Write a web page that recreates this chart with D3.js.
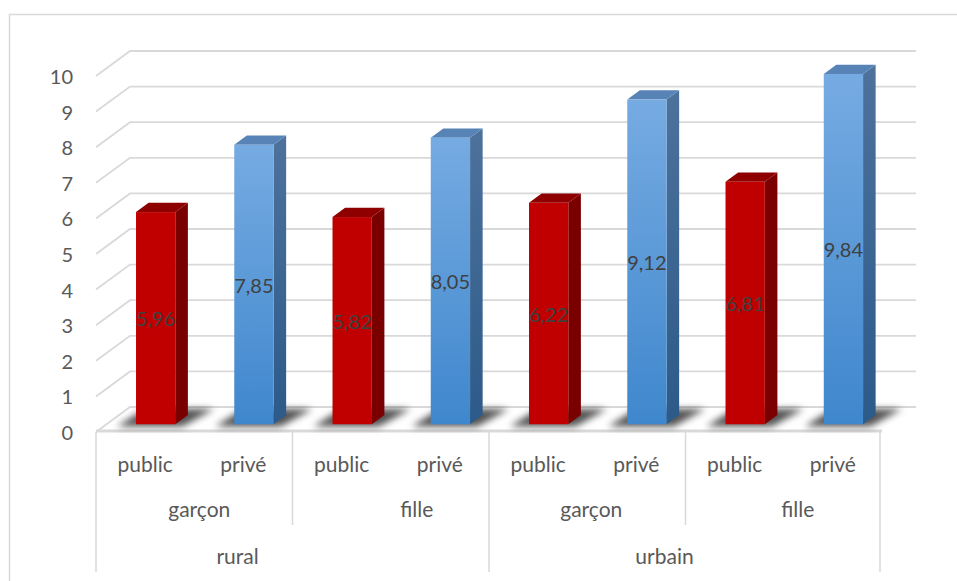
<!DOCTYPE html>
<html>
<head>
<meta charset="utf-8">
<script src="https://cdn.jsdelivr.net/npm/d3@7"></script>
<style>
  body { margin: 0; background: #fff; }
  text { font-family: Lato, "Open Sans", sans-serif; }
</style>
</head>
<body>
<svg id="chart" width="957" height="581"></svg>
<script>
// ── Data ────────────────────────────────────────────────────────────────
var types  = ["public", "privé", "public", "privé", "public", "privé", "public", "privé"];
var sexes  = ["garçon", "fille", "garçon", "fille"];
var zones  = ["rural", "urbain"];
var values = [5.96, 7.85, 5.82, 8.05, 6.22, 9.12, 6.81, 9.84];
var yTicks = [0, 1, 2, 3, 4, 5, 6, 7, 8, 9, 10];

// ── Geometry ────────────────────────────────────────────────────────────
var X0 = 96, Y0 = 432;     // front-left corner of the floor
var W  = 786;              // floor width
var DX = 34, DY = 25;      // full depth offset
var D1 = 0.31, D2 = 0.68;  // bar depth span

var svg = d3.select("#chart");

var y = d3.scaleLinear().domain([0, 10]).range([0, 356]);
var x = d3.scaleBand().domain(d3.range(values.length)).range([0, W])
  .paddingInner(0.6).paddingOuter(0.3);
var step = x.step();

function proj(u, v, d) { return [X0 + u + DX * d, Y0 - y(v) - DY * d]; }
function poly(pts) { return "M" + pts.map(function (p) { return p.join(","); }).join("L") + "Z"; }
function line(pts) { return "M" + pts.map(function (p) { return p.join(","); }).join("L"); }

// ── Defs ────────────────────────────────────────────────────────────────
var defs = svg.append("defs");
function vgrad(id, c1, c2) {
  var g = defs.append("linearGradient").attr("id", id)
    .attr("x1", 0).attr("y1", 0).attr("x2", 0).attr("y2", 1);
  g.append("stop").attr("offset", "0%").attr("stop-color", c1);
  g.append("stop").attr("offset", "100%").attr("stop-color", c2);
}
vgrad("blueFront", "#76abe2", "#3f87cd");
vgrad("blueSide",  "#4d729c", "#2c5a89");
defs.append("filter").attr("id", "shadowBlur")
  .attr("x", "-50%").attr("y", "-50%").attr("width", "200%").attr("height", "200%")
  .append("feGaussianBlur").attr("stdDeviation", 3.5);

var COLORS = [
  { front: "#c00000", side: "#7a0000", top: "#8e0000" },
  { front: "url(#blueFront)", side: "url(#blueSide)", top: "#5783b6" }
];

// ── Chart border ───────────────────────────────────────────────────────
svg.append("rect")
  .attr("x", 9.5).attr("y", 14.5).attr("width", 980).attr("height", 620)
  .attr("fill", "none").attr("stroke", "#d9d9d9").attr("stroke-width", 1.5);

// ── Floor ──────────────────────────────────────────────────────────────
svg.append("path")
  .attr("d", line([proj(W, 0, 1), proj(0, 0, 1), proj(0, 0, 0)]))
  .attr("fill", "none").attr("stroke", "#d9d9d9").attr("stroke-width", 1.8);
svg.append("line")
  .attr("x1", proj(0, 0, 0)[0]).attr("x2", proj(W, 0, 0)[0])
  .attr("y1", Y0 - 1).attr("y2", Y0 - 1)
  .attr("stroke", "#d9d9d9").attr("stroke-width", 3);

// ── Gridlines (side wall + back wall) ─────────────────────────────────
svg.append("g").selectAll("path").data(yTicks.filter(function (t) { return t > 0; }))
  .join("path")
  .attr("d", function (t) { return line([proj(0, t, 0), proj(0, t, 1), proj(W, t, 1)]); })
  .attr("fill", "none").attr("stroke", "#d9d9d9").attr("stroke-width", 1.8);

// ── Y tick labels ──────────────────────────────────────────────────────
svg.append("g").selectAll("text").data(yTicks).join("text")
  .attr("x", 73).attr("y", function (t) { return proj(0, t, 0)[1]; })
  .attr("text-anchor", "end").attr("dominant-baseline", "central")
  .attr("fill", "#595959").attr("font-size", "20px")
  .text(function (t) { return t; });

// ── Floor shadows ──────────────────────────────────────────────────────
svg.append("g").attr("filter", "url(#shadowBlur)")
  .selectAll("path").data(values).join("path")
  .attr("d", function (v, i) {
    var u0 = x(i) - 16, u1 = x(i) + x.bandwidth() + 10;
    return poly([proj(u0, 0, 0.22), proj(u1, 0, 0.22), proj(u1 + 8, 0, 0.92), proj(u0 + 4, 0, 0.92)]);
  })
  .attr("fill", "#000").attr("opacity", 0.68);

// ── Bars ───────────────────────────────────────────────────────────────
var bars = svg.append("g").selectAll("g").data(values).join("g");
bars.each(function (v, i) {
  var g = d3.select(this), c = COLORS[i % 2];
  var u0 = x(i), u1 = x(i) + x.bandwidth();
  g.append("path").attr("fill", c.side)
    .attr("d", poly([proj(u1, 0, D1), proj(u1, v, D1), proj(u1, v, D2), proj(u1, 0, D2)]));
  g.append("path").attr("fill", c.top)
    .attr("d", poly([proj(u0, v, D1), proj(u1, v, D1), proj(u1, v, D2), proj(u0, v, D2)]));
  var f0 = proj(u0, v, D1), f1 = proj(u1, 0, D1);
  g.append("rect").attr("fill", c.front)
    .attr("x", f0[0]).attr("y", f0[1]).attr("width", f1[0] - f0[0]).attr("height", f1[1] - f0[1]);
});

// ── Data labels ────────────────────────────────────────────────────────
svg.append("g").selectAll("text").data(values).join("text")
  .attr("x", function (v, i) { return proj(x(i) + x.bandwidth() / 2, 0, D1)[0]; })
  .attr("y", function (v) { return proj(0, v / 2, D1)[1]; })
  .attr("text-anchor", "middle").attr("dominant-baseline", "central")
  .attr("fill", "#404040").attr("font-size", "20px")
  .text(function (v) { return d3.format(".2f")(v).replace(".", ","); });

// ── Multi-level category axis ──────────────────────────────────────────
var axisG = svg.append("g");
var boundaries = d3.range(0, values.length + 1, 2);
axisG.selectAll("line").data(boundaries).join("line")
  .attr("x1", function (k) { return X0 + k * step - (k === values.length ? 2 : 0); })
  .attr("x2", function (k) { return X0 + k * step - (k === values.length ? 2 : 0); })
  .attr("y1", Y0).attr("y2", function (k) { return k % 4 === 0 ? 572 : 525; })
  .attr("stroke", "#d9d9d9").attr("stroke-width", 1.5);

axisG.selectAll("text.type").data(types).join("text").attr("class", "type")
  .attr("x", function (t, i) { return X0 + x(i) + x.bandwidth() / 2; })
  .attr("y", 463).attr("text-anchor", "middle").attr("dominant-baseline", "central")
  .attr("fill", "#595959").attr("font-size", "21px").text(function (t) { return t; });

var sexShift = [5, 26, 4, 14];
axisG.selectAll("text.sex").data(sexes).join("text").attr("class", "sex")
  .attr("x", function (t, i) { return X0 + (i * 2 + 1) * step + sexShift[i]; })
  .attr("y", 508).attr("text-anchor", "middle").attr("dominant-baseline", "central")
  .attr("fill", "#595959").attr("font-size", "21px").text(function (t) { return t; });

var zoneShift = [-55, -21];
axisG.selectAll("text.zone").data(zones).join("text").attr("class", "zone")
  .attr("x", function (t, i) { return X0 + (i * 4 + 2) * step + zoneShift[i]; })
  .attr("y", 555).attr("text-anchor", "middle").attr("dominant-baseline", "central")
  .attr("fill", "#595959").attr("font-size", "21px").text(function (t) { return t; });
</script>
</body>
</html>
